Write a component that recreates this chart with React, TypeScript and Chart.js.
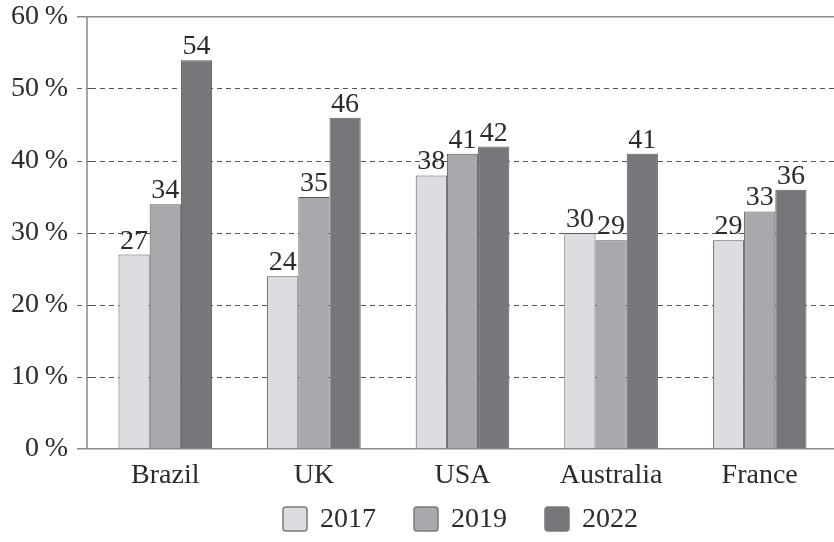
import React, { useEffect, useRef } from "react";
import { Chart, registerables } from "chart.js";

Chart.register(...registerables);

const categories = ["Brazil", "UK", "USA", "Australia", "France"];
const seriesLabels = ["2017", "2019", "2022"];
const values2017 = [27, 24, 38, 30, 29];
const values2019 = [34, 35, 41, 29, 33];
const values2022 = [54, 46, 42, 41, 36];
const yTicks = [0, 10, 20, 30, 40, 50, 60];

const FONT = '"Liberation Serif", "DejaVu Serif", serif';
const FS = 28;
const fills = ["#dcdde1", "#a8a9ad", "#76777b"];
const TEXT = "#2b2b2b";
const AXIS = "#8a8a8a";

const isEdge = (c: any) => c.tick && (c.tick.value === 60 || c.tick.value === 0);

const valueLabels = {
  id: "valueLabels",
  afterDatasetsDraw(chart: any) {
    const ctx = chart.ctx;
    ctx.save();
    ctx.font = `${FS}px ${FONT}`;
    ctx.fillStyle = TEXT;
    ctx.textAlign = "center";
    ctx.textBaseline = "alphabetic";
    chart.data.datasets.forEach((ds: any, i: number) => {
      const meta = chart.getDatasetMeta(i);
      meta.data.forEach((el: any, j: number) => {
        ctx.fillText(String(ds.data[j]), el.x, el.y - 6);
      });
    });
    ctx.restore();
  },
};

const leftAxisLine = {
  id: "leftAxisLine",
  afterDraw(chart: any) {
    const ctx = chart.ctx;
    const a = chart.chartArea;
    const x = a.left - 4;
    ctx.save();
    ctx.strokeStyle = AXIS;
    ctx.lineWidth = 1.5;
    ctx.beginPath();
    ctx.moveTo(x, a.top);
    ctx.lineTo(x, a.bottom);
    ctx.stroke();
    ctx.restore();
  },
};

const customLegend = {
  id: "customLegend",
  afterDraw(chart: any) {
    const ctx = chart.ctx;
    const area = chart.chartArea;
    ctx.save();
    ctx.font = `${FS}px ${FONT}`;
    const boxW = 24;
    const boxH = 24;
    const gap = 13;
    const itemGap = 38;
    const items = chart.data.datasets.map((ds: any) => ({
      label: ds.label,
      color: ds.backgroundColor,
      w: boxW + gap + ctx.measureText(ds.label).width,
    }));
    const total =
      items.reduce((s: number, it: any) => s + it.w, 0) + itemGap * (items.length - 1);
    let x = (area.left - 4 + 834) / 2 - total / 2;
    const cy = 519;
    items.forEach((it: any) => {
      ctx.beginPath();
      ctx.roundRect(x, cy - boxH / 2, boxW, boxH, 3);
      ctx.fillStyle = it.color;
      ctx.fill();
      ctx.lineWidth = 1.5;
      ctx.strokeStyle = "#7a7a7a";
      ctx.stroke();
      ctx.fillStyle = TEXT;
      ctx.textAlign = "left";
      ctx.textBaseline = "middle";
      ctx.fillText(it.label, x + boxW + gap, cy + 1);
      x += it.w + itemGap;
    });
    ctx.restore();
  },
};

export default function App() {
  const ref = useRef<HTMLCanvasElement | null>(null);

  useEffect(() => {
    if (!ref.current) return;
    const dataSets = [values2017, values2019, values2022];
    const chart = new Chart(ref.current, {
      type: "bar",
      data: {
        labels: categories,
        datasets: seriesLabels.map((label, i) => ({
          label,
          data: dataSets[i],
          backgroundColor: fills[i],
          borderColor: "#5a5a5a",
          borderWidth: 1,
          barPercentage: 1,
          categoryPercentage: 0.63,
        })),
      },
      options: {
        responsive: false,
        animation: false,
        layout: { padding: { top: 17, right: -7, left: 0, bottom: 0 } },
        plugins: {
          legend: { display: false },
          tooltip: { enabled: false },
        },
        scales: {
          x: {
            grid: { display: false },
            border: { display: false },
            ticks: {
              font: { family: FONT, size: FS },
              color: TEXT,
              padding: 2,
            },
            afterFit: (scale: any) => {
              scale.height = 93;
            },
          },
          y: {
            min: 0,
            max: 60,
            afterBuildTicks: (scale: any) => {
              scale.ticks = yTicks.map((v) => ({ value: v }));
            },
            ticks: {
              font: { family: FONT, size: FS },
              color: TEXT,
              padding: 9,
              callback: (v: any) => `${v}\u2009%`,
            },
            grid: {
              color: (c: any) => (isEdge(c) ? AXIS : "#555"),
              lineWidth: (c: any) => (isEdge(c) ? 1.5 : 1),
              tickLength: 14,
              drawTicks: true,
              tickColor: (c: any) => (isEdge(c) ? AXIS : "#555"),
              tickBorderDash: (c: any) => (isEdge(c) ? [] : [5, 4]),
            },
            border: {
              display: false,
              dash: (c: any) => (isEdge(c) ? [] : [5, 4]),
            },
            afterFit: (scale: any) => {
              scale.width = 91;
              scale.paddingTop = 0;
              scale.paddingBottom = 0;
            },
          },
        },
      },
      plugins: [valueLabels, leftAxisLine, customLegend],
    });
    return () => chart.destroy();
  }, []);

  return (
    <div style={{ position: "absolute", left: 0, top: 0, width: 834, height: 542, background: "#fff" }}>
      <canvas ref={ref} width={834} height={542} />
    </div>
  );
}
